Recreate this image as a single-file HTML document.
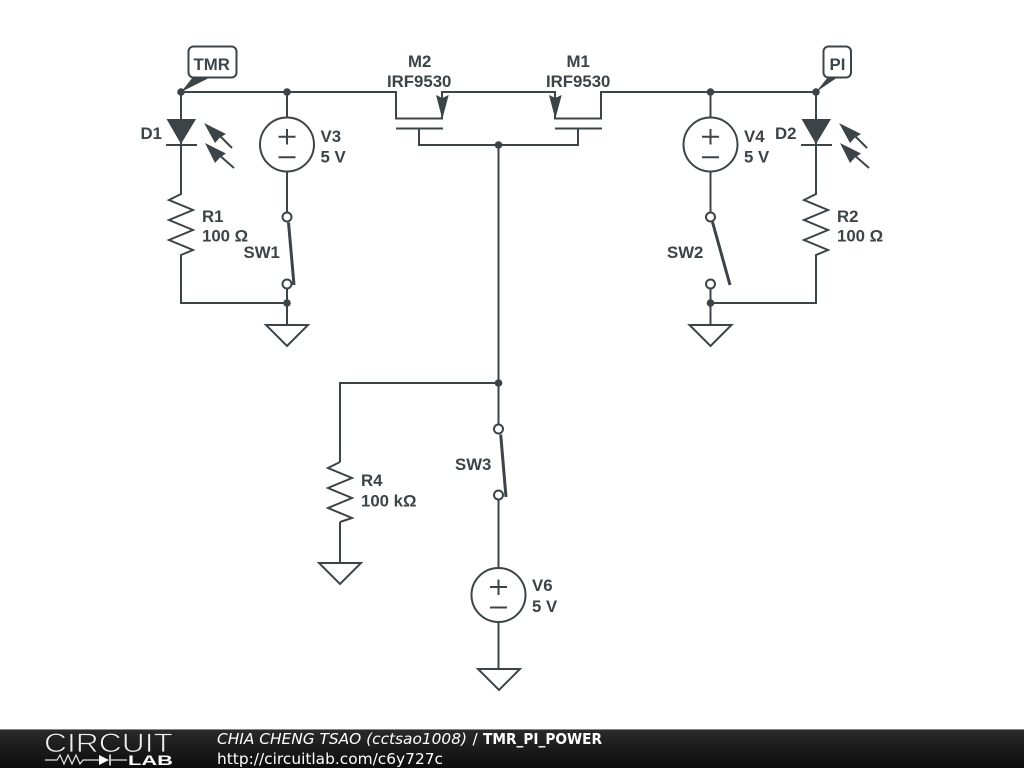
<!DOCTYPE html>
<html>
<head>
<meta charset="utf-8">
<style>
html,body{margin:0;padding:0;background:#fff;width:1024px;height:768px;overflow:hidden}
svg{display:block;position:absolute;left:0;top:0}
.w{fill:none;stroke:#3c4448;stroke-width:2;stroke-linejoin:miter}
.c{fill:#fff;stroke:#3c4448;stroke-width:2}
.t{font-family:"Liberation Sans",sans-serif;font-weight:bold;font-size:16.8px;fill:#3c4448}
.f{font-family:"DejaVu Sans",sans-serif;font-size:15.4px;fill:#fff}
</style>
</head>
<body>
<svg width="1024" height="768" viewBox="0 0 1024 768" xmlns="http://www.w3.org/2000/svg">
<defs>
<linearGradient id="bar" x1="0" y1="0" x2="0" y2="1"><stop offset="0" stop-color="#2b2b2b"/><stop offset="1" stop-color="#0c0c0c"/></linearGradient>
</defs>
<rect width="1024" height="768" fill="#fff"/>

<!-- main wires -->
<path class="w" d="M181 92H396V118.500H442V92H555V118.500H601V92H816"/>
<path class="w" d="M396 128.500H443M555 128.500H602M419 128.500V145H578V128.500M498.500 145V429"/>
<path class="w" d="M498.500 383H340V462M340 522V563"/>

<!-- left branch -->
<path class="w" d="M181 92V194L169 200L193 210L169 220L193 230L169 240L193 250L181 255V303H287"/>
<path class="w" d="M166 145H197"/>
<path d="M166.500 119H196L181 144Z" fill="#3c4448"/>
<path class="w" d="M287 92V117.500M287 171.500V212.500M287 288.500V325"/>
<circle class="w" cx="287" cy="144.500" r="27"/>
<path class="w" d="M278.500 136.700H295.500M287 129V144.500M278.500 157.300H295.500"/>
<circle class="c" cx="287" cy="217" r="4.500"/>
<circle class="c" cx="287" cy="284" r="4.500"/>
<path d="M288.500 222.500L294 285" fill="none" stroke="#3c4448" stroke-width="3"/>
<path class="w" d="M266 325H308L287 346Z"/>
<path class="w" d="M232 148L218 134M234 168L218 154"/>
<path d="M204 123L226 134L220 137.500L215 143Z" fill="#3c4448"/>
<path d="M205 143L226 153.500L220 157.500L215 163Z" fill="#3c4448"/>

<!-- right branch -->
<path class="w" d="M816 92V194L804 200L828 210L804 220L828 230L804 240L828 250L816 255V303H710.500"/>
<path class="w" d="M801 145H832"/>
<path d="M801.500 119H831L816 144Z" fill="#3c4448"/>
<path class="w" d="M710.500 92V117.500M710.500 171.500V212.500M710.500 288.500V325"/>
<circle class="w" cx="710.500" cy="144.500" r="27"/>
<path class="w" d="M702 136.700H719M710.500 129V144.500M702 157.300H719"/>
<circle class="c" cx="710.500" cy="217" r="4.500"/>
<circle class="c" cx="710.500" cy="284" r="4.500"/>
<path d="M712.500 222L730 285" fill="none" stroke="#3c4448" stroke-width="3"/>
<path class="w" d="M689.500 325H731.500L710.500 346Z"/>
<path class="w" d="M867 148L853 134M869 168L853 154"/>
<path d="M839 123L861 134L855 137.500L850 143Z" fill="#3c4448"/>
<path d="M840 143L861 153.500L855 157.500L850 163Z" fill="#3c4448"/>

<!-- MOSFET arrows -->
<path d="M436 95L442.300 98L448.700 95L442.300 119Z" fill="#3c4448"/>
<path d="M549 95L555.300 98L561.700 95L555.300 119Z" fill="#3c4448"/>

<!-- R4 -->
<path class="w" d="M340 462L328 468L352 478L328 488L352 498L328 508L352 518L340 522"/>
<path class="w" d="M319 563H361L340 584Z"/>

<!-- SW3 and V6 -->
<circle class="c" cx="498.500" cy="429" r="4.500"/>
<circle class="c" cx="498.500" cy="495" r="4.500"/>
<path d="M500.700 434.500L506 497" fill="none" stroke="#3c4448" stroke-width="3"/>
<path class="w" d="M498.500 499.500V568M498.500 622V669"/>
<circle class="w" cx="498.500" cy="595" r="27"/>
<path class="w" d="M490 587H507M498.500 579.500V595M490 607.500H507"/>
<path class="w" d="M478 669H520L499 690Z"/>

<!-- dots -->
<g fill="#3c4448">
<circle cx="181" cy="92" r="3.800"/><circle cx="287" cy="92" r="3.800"/>
<circle cx="710.500" cy="92" r="3.800"/><circle cx="816" cy="92" r="3.800"/>
<circle cx="498.500" cy="145" r="3.800"/><circle cx="498.500" cy="383" r="3.800"/>
<circle cx="287" cy="303" r="3.800"/><circle cx="710.500" cy="303" r="3.800"/>
</g>

<!-- net tags -->
<path d="M181 92L193 77H211Z" fill="#3c4448"/>
<rect x="188.500" y="46.500" width="48" height="31" rx="5" fill="#fff" stroke="#3c4448" stroke-width="2"/>
<path d="M816 92L828 77H838Z" fill="#3c4448"/>
<rect x="823.500" y="46.500" width="27.500" height="31" rx="5" fill="#fff" stroke="#3c4448" stroke-width="2"/>

<!-- labels -->
<g class="t">
<text x="193.500" y="70">TMR</text>
<text x="829.500" y="70">PI</text>
<text x="408" y="67">M2</text>
<text x="387" y="87">IRF9530</text>
<text x="566.500" y="67">M1</text>
<text x="546" y="87">IRF9530</text>
<text x="140.500" y="139">D1</text>
<text x="775" y="139">D2</text>
<text x="320.500" y="142">V3</text>
<text x="320.500" y="162.500">5 V</text>
<text x="744" y="142">V4</text>
<text x="744" y="162.500">5 V</text>
<text x="202" y="222">R1</text>
<text x="202" y="241.500">100 Ω</text>
<text x="837" y="222">R2</text>
<text x="837" y="241.500">100 Ω</text>
<text x="243.500" y="258">SW1</text>
<text x="667" y="258">SW2</text>
<text x="455" y="470">SW3</text>
<text x="361" y="486">R4</text>
<text x="361" y="506.500">100 kΩ</text>
<text x="532" y="591">V6</text>
<text x="532" y="612">5 V</text>
</g>

<!-- footer -->
<rect x="0" y="729" width="1024" height="39" fill="url(#bar)"/>
<rect x="0" y="729" width="1024" height="1" fill="#888"/>
<text x="44" y="752" textLength="129" lengthAdjust="spacingAndGlyphs" font-family="Liberation Sans, sans-serif" font-size="26.500" fill="#f0f0f0" stroke="#1c1c1c" stroke-width="0.800">CIRCUIT</text>
<text x="128" y="765" textLength="45" lengthAdjust="spacingAndGlyphs" font-family="Liberation Sans, sans-serif" font-weight="bold" font-size="14" fill="#fff">LAB</text>
<path d="M45 760H57L60 755L64 764L68 755L72 764L76 755L80 764L83 760H99M111 760H127" fill="none" stroke="#e8e8e8" stroke-width="1.200"/>
<path d="M99 755L109 760L99 765Z" fill="#fff"/>
<path d="M110 754.500V765.500" stroke="#fff" stroke-width="1.500"/>
<text class="f" x="217" y="744" textLength="250" lengthAdjust="spacingAndGlyphs" style="font-style:italic">CHIA CHENG TSAO (cctsao1008)</text>
<text class="f" x="472.500" y="744">/</text>
<text class="f" x="483" y="744" textLength="119" lengthAdjust="spacingAndGlyphs" style="font-weight:bold;font-size:15px">TMR_PI_POWER</text>
<text class="f" x="217" y="764" textLength="226" lengthAdjust="spacingAndGlyphs">http://circuitlab.com/c6y727c</text>
</svg>
</body>
</html>
